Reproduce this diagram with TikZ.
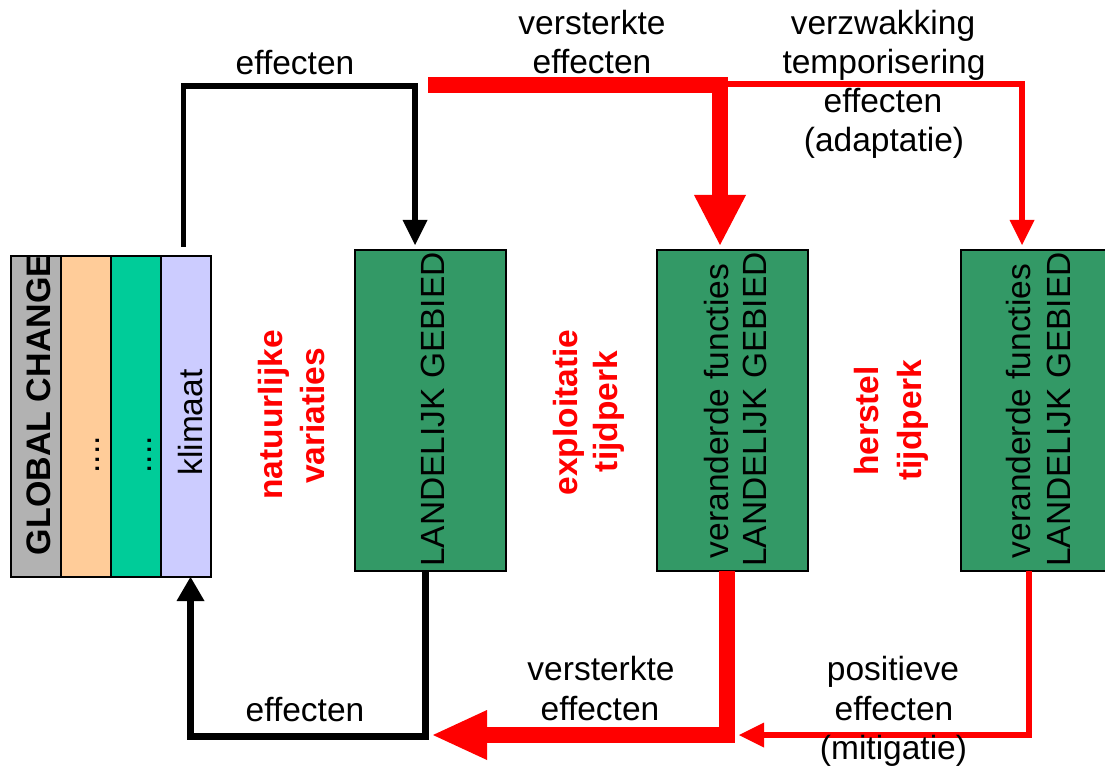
\documentclass[tikz,border=0pt]{standalone}
\usepackage{fontspec}
\setmainfont{Liberation Sans}
\usetikzlibrary{arrows.meta}
\definecolor{boxgreen}{RGB}{51,153,102}
\definecolor{gcgray}{RGB}{178,178,178}
\definecolor{gcorange}{RGB}{255,204,153}
\definecolor{gcgreen}{RGB}{0,204,153}
\definecolor{gclav}{RGB}{204,204,255}
\definecolor{arrowred}{RGB}{255,0,0}
\begin{document}
\begin{tikzpicture}[x=1pt,y=-1pt,
  strip/.style={draw=black,line width=2pt,minimum width=50pt,minimum height=321pt,inner sep=0pt,outer sep=0pt},
  landbox/.style={draw=black,line width=1.5pt,fill=boxgreen,minimum width=151pt,minimum height=321pt,inner sep=0pt,outer sep=0pt},
  lbl/.style={font=\fontsize{33.5}{40}\selectfont,inner sep=0pt,outer sep=0pt,anchor=base},
  vlbl/.style={lbl,rotate=90},
  redlbl/.style={vlbl,text=arrowred,font=\fontsize{33.5}{40}\selectfont\bfseries},
  conn/.style={line join=miter,line cap=butt},
  blacktop/.style={conn,draw=black,line width=5.5pt,-{Triangle[length=25pt,width=25pt,line width=0pt]}},
  blackbot/.style={conn,draw=black,line width=7pt,-{Triangle[length=24pt,width=28pt,line width=0pt]}},
  redthicktop/.style={conn,draw=arrowred,line width=16pt,-{Triangle[length=50pt,width=52pt,line width=0pt]}},
  redthickbot/.style={conn,draw=arrowred,line width=16pt,-{Triangle[length=54pt,width=50pt,line width=0pt]}},
  redthin/.style={conn,draw=arrowred,line width=6pt,-{Triangle[length=25pt,width=25pt,line width=0pt]}},
]
\path[use as bounding box, clip] (0,0) rectangle (1105,767);
\fill[white] (0,0) rectangle (1105,767);

% GLOBAL CHANGE stack
\node[strip,fill=gcgray] (gc) at (36,416.5) {};
\node[strip,fill=gcorange] (or) at (86,416.5) {};
\node[strip,fill=gcgreen] (gr) at (136,416.5) {};
\node[strip,fill=gclav] (kl) at (186,416.5) {};
\begin{scope}
  \clip (gc.south west) rectangle (gc.north east);
  \node[vlbl,anchor=base west,font=\fontsize{34}{40}\selectfont\bfseries] (gctext) at (50,555) {GLOBAL CHANGE};
\end{scope}
\node[vlbl] (dots1) at (99,455) {....};
\node[vlbl] (dots2) at (151,455) {....};
\node[vlbl] (kltext) at (202,422.5) {klimaat};

% rural area boxes
\node[landbox] (b1) at (430.5,410.5) {};
\node[landbox] (b2) at (732.5,410.5) {};
\node[landbox] (b3) at (1036.5,410.5) {};
\node[vlbl] (b1t) at (444,409.5) {LANDELIJK GEBIED};
\node[vlbl] (b2a) at (728,411) {veranderde functies};
\node[vlbl] (b2b) at (766,409.5) {LANDELIJK GEBIED};
\node[vlbl] (b3a) at (1030,411) {veranderde functies};
\node[vlbl] (b3b) at (1070,409.5) {LANDELIJK GEBIED};

% red era labels
\node[redlbl] (nv1) at (282,415) {natuurlijke};
\node[redlbl] (nv2) at (324,416) {variaties};
\node[redlbl] (et1) at (577,412.5) {exploitatie};
\node[redlbl] (et2) at (617,411.5) {tijdperk};
\node[redlbl] (ht1) at (878,421) {herstel};
\node[redlbl] (ht2) at (921,420) {tijdperk};

% connector helper coordinates
\coordinate (ct) at (415,86);
\coordinate (rs1) at (428,85);
\coordinate (rs2) at (728,84);
\coordinate (cb) at (190.5,736);
\coordinate (re2) at (433,735);
\coordinate (re3) at (739,735);

% top connectors
\draw[blacktop] ([shift={(-2.5pt,9pt)}]kl.north) |- (ct) -- ([shift={(-15.5pt,5pt)}]b1.north);
\draw[redthin] (rs2) -| ([shift={(-14.5pt,5pt)}]b3.north);
\draw[redthicktop] (rs1) -| ([shift={(-12.5pt,5pt)}]b2.north);

% bottom connectors
\draw[blackbot] ([xshift=-5.5pt]b1.south) |- (cb) -- ([xshift=4.5pt]kl.south);
\draw[redthin] ([xshift=-7.5pt]b3.south) |- (re3);
\draw[redthickbot] ([xshift=-5.5pt]b2.south) |- (re2);

% top labels
\node[lbl] (l1) at (295,75) {effecten};
\node[lbl] (l2a) at (592,35) {versterkte};
\node[lbl] (l2b) at (592,74) {effecten};
\node[lbl] (l3a) at (883,35) {verzwakking};
\node[lbl] (l3b) at (884,74) {temporisering};
\node[lbl] (l3c) at (883,113) {effecten};
\node[lbl] (l3d) at (884,152) {(adaptatie)};

% bottom labels
\node[lbl] (l4) at (305,721) {effecten};
\node[lbl] (l5a) at (601,680) {versterkte};
\node[lbl] (l5b) at (600,720) {effecten};
\node[lbl] (l6a) at (893,680) {positieve};
\node[lbl] (l6b) at (894,720) {effecten};
\node[lbl] (l6c) at (893.5,759) {(mitigatie)};
\end{tikzpicture}
\end{document}
